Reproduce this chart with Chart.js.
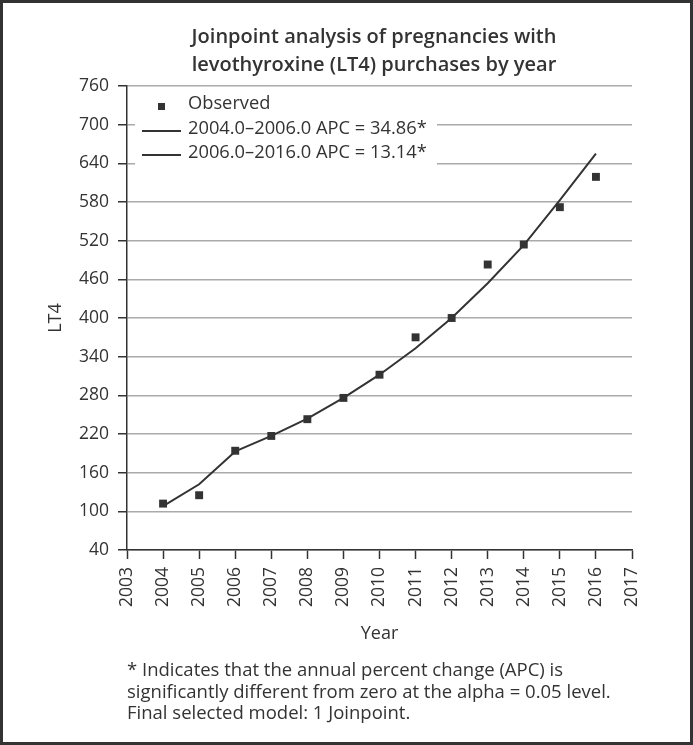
<!DOCTYPE html>
<html>
<head>
<meta charset="utf-8">
<script src="https://cdn.jsdelivr.net/npm/chart.js@4"></script>
<style>
  html, body { margin: 0; padding: 0; background: #fff; }
  #frame {
    position: relative; width: 693px; height: 745px;
    box-sizing: border-box; border: 3px solid #333; overflow: hidden;
    font-family: 'Open Sans', sans-serif; color: #333;
  }
  #chart { position: absolute; left: -3px; top: -3px; }
  #title {
    position: absolute; left: 71px; width: 600px; top: 19px;
    text-align: center; font-weight: 600; font-size: 20px; line-height: 28px;
  }
  #note {
    position: absolute; left: 124px; top: 655px;
    font-size: 18.5px; line-height: 21.5px;
  }
</style>
</head>
<body>
<div id="frame">
  <canvas id="chart" width="693" height="745"></canvas>
  <div id="title">Joinpoint analysis of pregnancies with<br>levothyroxine (LT4) purchases by year</div>
  <div id="note">* Indicates that the annual percent change (APC) is<br>significantly different from zero at the alpha = 0.05 level.<br>Final selected model: 1 Joinpoint.</div>
</div>
<script>
'use strict';

// observed counts
let years = [2004, 2005, 2006, 2007, 2008, 2009, 2010, 2011, 2012, 2013, 2014, 2015, 2016];
let observed = [112, 125, 194, 217, 243, 276, 312, 370, 400, 483, 514, 572, 619];

// fitted joinpoint segments
let segYears1 = [2004, 2005, 2006];
let segFit1 = [108, 142, 193];
let segYears2 = [2006, 2007, 2008, 2009, 2010, 2011, 2012, 2013, 2014, 2015, 2016];
let segFit2 = [193, 217, 244, 276, 312, 353, 400, 454, 513, 583, 655];

let seriesLabels = ['Observed', '2004.0\u20132006.0 APC = 34.86*', '2006.0\u20132016.0 APC = 13.14*'];

let yMin = 40, yMax = 760, yStep = 60;
let xMin = 2003, xMax = 2017;

function toPoints(xs, ys) {
    return xs.map((x, i) => ({ x: x, y: ys[i] }));
}

Chart.defaults.font.family = "'Open Sans', sans-serif";
Chart.defaults.font.size = 17.5;
Chart.defaults.color = '#333';

// legend drawn inside the plot, over the grid
let insideLegend = {
    id: 'insideLegend',
    beforeDatasetsDraw(chart) {
        let ctx = chart.ctx;
        let ds = chart.data.datasets;
        ctx.save();
        ctx.fillStyle = '#fff';
        ctx.fillRect(135, 89, 302, 79);
        ctx.font = "18.3px 'Open Sans', sans-serif";
        ctx.textBaseline = 'middle';
        let rows = [104, 129, 153];
        for (let i = 0; i < ds.length; i++) {
            let y = rows[i];
            if (i === 0) {
                ctx.fillStyle = ds[i].backgroundColor;
                ctx.fillRect(158, y - 1, 7, 7);
            } else {
                ctx.strokeStyle = ds[i].borderColor;
                ctx.lineWidth = ds[i].borderWidth;
                ctx.beginPath();
                ctx.moveTo(142, y + 2);
                ctx.lineTo(181, y + 2);
                ctx.stroke();
            }
            ctx.fillStyle = '#333';
            ctx.fillText(ds[i].label, 188, y);
        }
        ctx.restore();
    }
};

let chartEl = document.getElementById('chart').getContext('2d');
let myChart = new Chart(chartEl, {
    type: 'line',
    data: {
        datasets: [{
            label: seriesLabels[0],
            data: toPoints(years, observed),
            showLine: false,
            pointStyle: 'rect',
            pointRadius: 5.6,
            pointBorderWidth: 0,
            backgroundColor: '#333',
            borderColor: '#333'
        }, {
            label: seriesLabels[1],
            data: toPoints(segYears1, segFit1),
            borderColor: '#333',
            borderWidth: 2,
            pointRadius: 0,
            tension: 0
        }, {
            label: seriesLabels[2],
            data: toPoints(segYears2, segFit2),
            borderColor: '#333',
            borderWidth: 2,
            pointRadius: 0,
            tension: 0
        }]
    },
    options: {
        responsive: false,
        animation: false,
        devicePixelRatio: 1,
        layout: { padding: { left: 20, top: 86, right: 61, bottom: 100 } },
        plugins: {
            legend: { display: false },
            tooltip: { enabled: false }
        },
        scales: {
            x: {
                type: 'linear',
                min: xMin,
                max: xMax,
                afterFit(scale) { scale.height = 95; },
                ticks: {
                    stepSize: 1,
                    minRotation: 90,
                    maxRotation: 90,
                    padding: 8,
                    color: '#333',
                    font: { size: 17.5 },
                    callback: (v) => String(v)
                },
                grid: { drawOnChartArea: false, tickLength: 9, tickColor: '#333', tickWidth: 1.5 },
                border: { color: '#333', width: 1.5 },
                title: { display: true, text: 'Year', color: '#333', font: { size: 18 }, padding: { top: 0, bottom: 0 } }
            },
            y: {
                min: yMin,
                max: yMax,
                afterFit(scale) { scale.width = 107; },
                ticks: { stepSize: yStep, padding: 9, color: '#333', font: { size: 17.5 } },
                grid: { color: '#aaa', lineWidth: 1.5, tickLength: 9, tickColor: '#333', tickWidth: 1.5 },
                border: { color: '#333', width: 1.5 },
                title: { display: true, text: 'LT4', color: '#333', font: { size: 18 }, padding: { top: 25, bottom: 0 } }
            }
        }
    },
    plugins: [insideLegend]
});
</script>
</body>
</html>
